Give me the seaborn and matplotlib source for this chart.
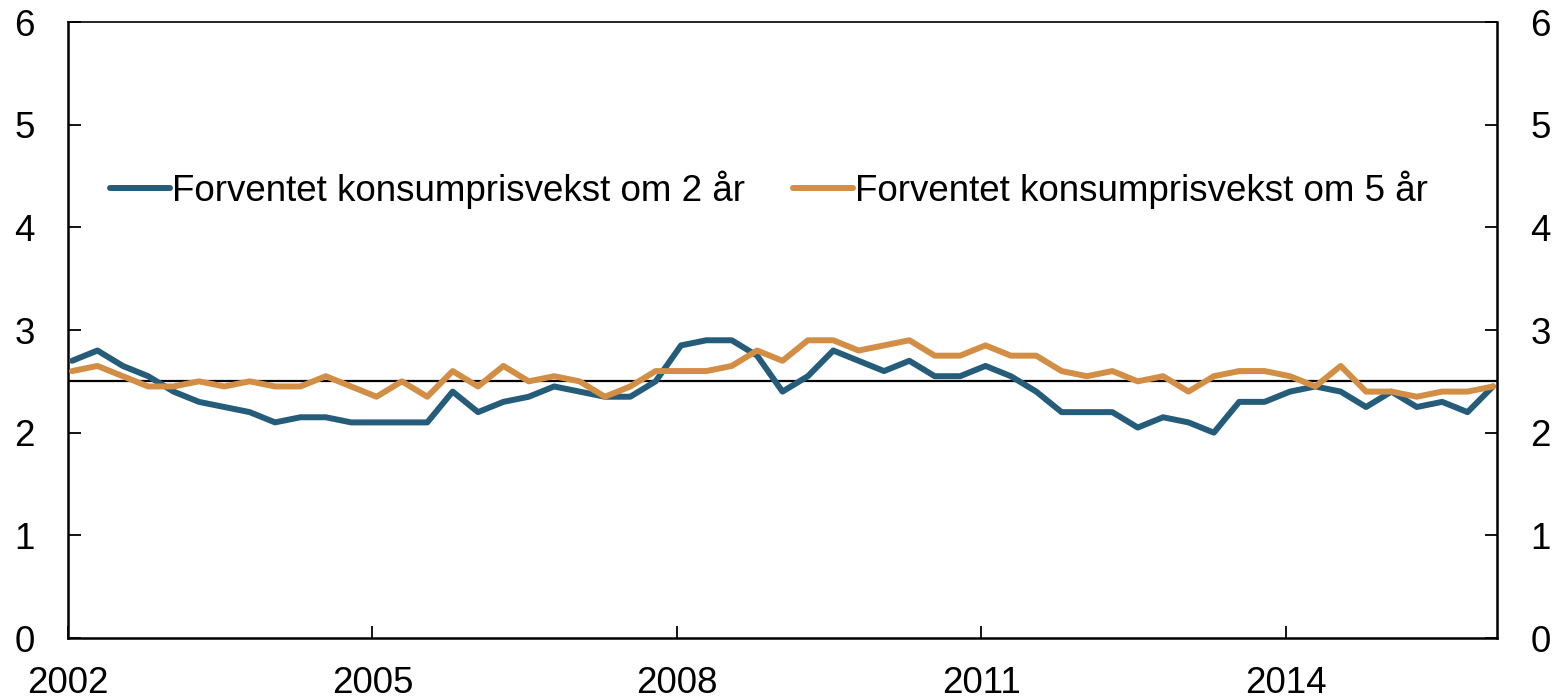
import matplotlib
matplotlib.use("Agg")
import matplotlib.pyplot as plt
import seaborn as sns
import numpy as np
import pandas as pd

# Quarterly data, 2002Q1 - 2016Q1
start_year = 2002
n_quarters = 57
two_year = [2.70, 2.80, 2.65, 2.55, 2.40, 2.30, 2.25, 2.20, 2.10, 2.15,
            2.15, 2.10, 2.10, 2.10, 2.10, 2.40, 2.20, 2.30, 2.35, 2.45,
            2.40, 2.35, 2.35, 2.50, 2.85, 2.90, 2.90, 2.75, 2.40, 2.55,
            2.80, 2.70, 2.60, 2.70, 2.55, 2.55, 2.65, 2.55, 2.40, 2.20,
            2.20, 2.20, 2.05, 2.15, 2.10, 2.00, 2.30, 2.30, 2.40, 2.45,
            2.40, 2.25, 2.40, 2.25, 2.30, 2.20, 2.45]
five_year = [2.60, 2.65, 2.55, 2.45, 2.45, 2.50, 2.45, 2.50, 2.45, 2.45,
             2.55, 2.45, 2.35, 2.50, 2.35, 2.60, 2.45, 2.65, 2.50, 2.55,
             2.50, 2.35, 2.45, 2.60, 2.60, 2.60, 2.65, 2.80, 2.70, 2.90,
             2.90, 2.80, 2.85, 2.90, 2.75, 2.75, 2.85, 2.75, 2.75, 2.60,
             2.55, 2.60, 2.50, 2.55, 2.40, 2.55, 2.60, 2.60, 2.55, 2.45,
             2.65, 2.40, 2.40, 2.35, 2.40, 2.40, 2.45]
label_2 = "Forventet konsumprisvekst om 2 år"
label_5 = "Forventet konsumprisvekst om 5 år"
target = 2.5
x_ticks = [2002, 2005, 2008, 2011, 2014]
y_ticks = [0, 1, 2, 3, 4, 5, 6]

blue = "#245C7A"
orange = "#D28E44"

x = start_year + 0.04 + 0.25 * np.arange(n_quarters)
df = pd.DataFrame({"x": np.concatenate([x, x]),
                   "y": two_year + five_year,
                   "serie": [label_2] * n_quarters + [label_5] * n_quarters})

sns.set_theme(style="white")
plt.rcParams['font.family'] = ['Liberation Sans', 'DejaVu Sans']
plt.rcParams['text.color'] = 'black'

fig = plt.figure(figsize=(15.59, 7.0), dpi=100)
ax = fig.add_axes([68 / 1559, 1 - 638 / 700, (1497 - 68) / 1559, (638 - 22) / 700])

ax.axhline(target, color="black", lw=1.6, zorder=1)
sns.lineplot(data=df, x="x", y="y", hue="serie", palette=[blue, orange],
             lw=4.3, ax=ax, legend=True, zorder=3)

ax.set_xlim(2002, 2016.08)
ax.set_ylim(0, 6)
ax.set_xticks(x_ticks)
ax.set_xticklabels([str(t) for t in x_ticks])
ax.set_yticks(y_ticks)
ax.set_xlabel("")
ax.set_ylabel("")

for s in ["left", "right", "bottom"]:
    ax.spines[s].set_visible(True)
    ax.spines[s].set_color("black")
    ax.spines[s].set_linewidth(1.8)
ax.spines["top"].set_visible(True)
ax.spines["top"].set_color("black")
ax.spines["top"].set_linewidth(1.2)

ax.tick_params(axis="both", direction="in", length=9, width=1.3, colors="black",
               labelsize=26.5, labelcolor="black")
ax.tick_params(axis="y", left=True, right=True, labelleft=True, labelright=True, pad=24)
ax.tick_params(axis="x", bottom=True, pad=20)

leg = ax.legend(loc="center left", bbox_to_anchor=((110 - 68) / 1429, (638 - 190) / 616),
                ncol=2, frameon=False, fontsize=26.5, handlelength=1.63, handletextpad=0.06,
                columnspacing=1.3, borderaxespad=0, borderpad=0)
for t in leg.get_texts():
    t.set_color("black")

fig.savefig("out.png", dpi=100)
